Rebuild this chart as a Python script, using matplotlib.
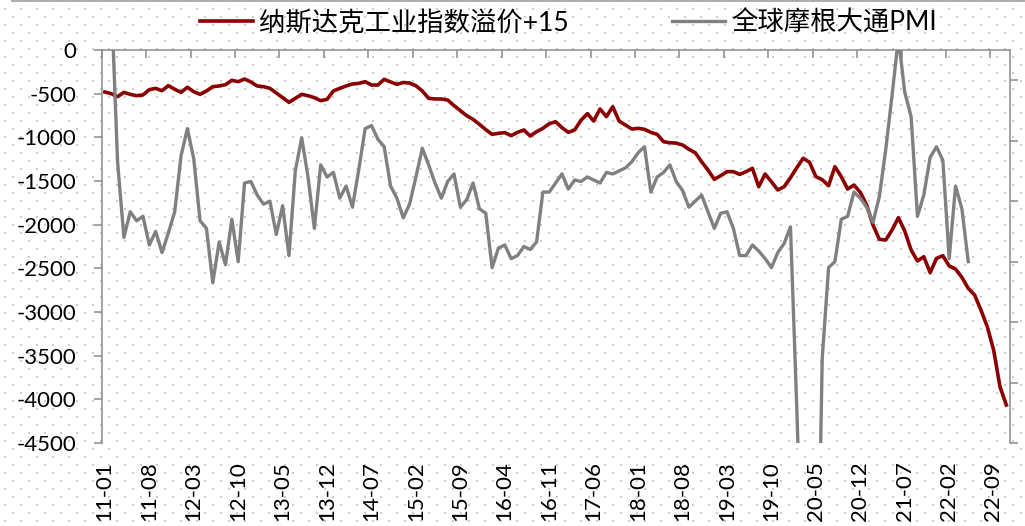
import numpy as np
import matplotlib
matplotlib.use('Agg')
import matplotlib.pyplot as plt
from matplotlib.lines import Line2D
from matplotlib.transforms import ScaledTranslation

# 纳斯达克工业指数溢价(+15), monthly from 2011-01
red = [-481, -500, -534, -485, -508, -523, -515, -454, -439, -466,
       -408, -450, -485, -427, -477, -508, -469, -420, -412, -397,
       -347, -363, -332, -366, -412, -420, -439, -492, -546, -599,
       -553, -508, -523, -546, -580, -565, -469, -439, -412, -389,
       -382, -363, -401, -401, -336, -366, -393, -372, -378, -410,
       -469, -553, -561, -561, -573, -637, -694, -752, -794, -851,
       -912, -966, -954, -946, -981, -943, -916, -985, -935, -897,
       -844, -821, -889, -943, -916, -805, -729, -813, -676, -763,
       -649, -813, -859, -905, -897, -908, -943, -966, -1050, -1062,
       -1066, -1088, -1137, -1176, -1280, -1374, -1481, -1439, -1393, -1393,
       -1424, -1393, -1355, -1565, -1420, -1508, -1603, -1565, -1462, -1347,
       -1240, -1286, -1450, -1485, -1554, -1336, -1450, -1592, -1546, -1630,
       -1775, -2004, -2168, -2176, -2061, -1920, -2073, -2290, -2416, -2367,
       -2550, -2386, -2355, -2473, -2508, -2603, -2729, -2805, -2977, -3168,
       -3435, -3855, -4065]

# 全球摩根大通PMI (secondary axis), monthly from 2011-01
pmi = [59.5, 59.8, 54.3, 51.8, 52.65, 52.35, 52.5, 51.55, 52.0, 51.3,
       51.95, 52.65, 54.5, 55.4, 54.4, 52.35, 52.1, 50.3, 51.65, 50.9,
       52.4, 51.0, 53.6, 53.65, 53.2, 52.9, 53.0, 51.9, 52.85, 51.2,
       54.0, 55.1, 53.8, 52.1, 54.2, 53.8, 53.95, 53.1, 53.5, 52.8,
       54.05, 55.4, 55.5, 55.05, 54.8, 53.5, 53.1, 52.45, 52.9, 53.8,
       54.75, 54.2, 53.6, 53.1, 53.65, 53.9, 52.8, 53.05, 53.6, 52.75,
       52.6, 50.8, 51.45, 51.55, 51.1, 51.2, 51.5, 51.4, 51.65, 53.3,
       53.3, 53.6, 53.9, 53.4, 53.7, 53.65, 53.8, 53.7, 53.6, 53.95,
       53.9, 54.0, 54.1, 54.3, 54.6, 54.8, 53.3, 53.8, 53.95, 54.2,
       53.65, 53.35, 52.8, 53.0, 53.2, 52.65, 52.1, 52.6, 52.65, 52.1,
       51.2, 51.2, 51.55, 51.35, 51.1, 50.8, 51.3, 51.6, 52.15, 46.1,
       39.4, 26.2, 36.3, 47.8, 50.8, 51.0, 52.4, 52.5, 53.3, 53.1,
       52.8, 52.3, 53.15, 54.7, 56.5, 58.4, 56.6, 55.8, 52.5, 53.2,
       54.45, 54.8, 54.35, 51.1, 53.5, 52.75, 51.0]

xlabels = ['11-01', '11-08', '12-03', '12-10', '13-05', '13-12', '14-07',
           '15-02', '15-09', '16-04', '16-11', '17-06', '18-01', '18-08',
           '19-03', '19-10', '20-05', '20-12', '21-07', '22-02', '22-09']

plt.rcParams['font.family'] = ['Lato', 'Noto Sans CJK SC', 'DejaVu Sans']
plt.rcParams['axes.unicode_minus'] = False

W, H = 1025, 526
fig = plt.figure(figsize=(W / 100, H / 100), dpi=100)

# dotted background pattern
img = np.ones((H, W, 3))
for yy in range(0, H, 8):
    off = 12 if (yy // 8) % 2 == 0 else 4
    img[yy:yy + 2, off::16] = 0.80
    img[yy:yy + 2, off + 1::16] = 0.80
fig.figimage(img, xo=0, yo=0, origin='upper', zorder=-10)
fig.add_artist(Line2D([12 / W, 1], [1 - 0.7 / H] * 2, color='#a0a0a0', lw=1.2))

gray = '#8c8c8c'
ax = fig.add_axes([101.7 / W, 1 - 443 / H, (1009.5 - 101.7) / W, 393 / H])
ax.set_facecolor('none')
l1, = ax.plot(np.arange(len(red)) + 0.5, red, color='#8B0000', lw=2.6,
              solid_joinstyle='round', label='纳斯达克工业指数溢价+15')
ax.set_xlim(0, 143)
ax.set_ylim(-4500, 0)
ax.set_yticks(range(-4500, 1, 500))
ax.set_xticks(range(0, 141, 7))
ax.set_xticklabels(xlabels, rotation=90)
ax.tick_params(axis='x', top=True, bottom=False, direction='in', length=5.6,
               width=1.1, color=gray, labelbottom=True, labeltop=False,
               pad=13, labelsize=16)
ax.tick_params(axis='y', direction='out', length=5.5, width=1.1, color=gray,
               pad=12.8, labelsize=16)
for lab in ax.get_xticklabels():
    lab.set_transform(lab.get_transform() + ScaledTranslation(0.03, 0, fig.dpi_scale_trans))

ax2 = ax.twinx()
ax2.set_facecolor('none')
l2, = ax2.plot(np.arange(len(pmi)) + 0.5, pmi, color='#808080', lw=2.4,
               solid_joinstyle='round', label='全球摩根大通PMI')
ax2.set_ylim(45, 58)
ax2.set_yticks(range(45, 58, 2))
ax2.tick_params(axis='y', direction='out', length=5.6, width=1.1, color=gray,
                labelright=False)

for s in ['top', 'left']:
    ax.spines[s].set_color(gray)
    ax.spines[s].set_linewidth(1.1)
ax.spines['bottom'].set_visible(False)
ax.spines['right'].set_visible(False)
for s in ['top', 'left', 'bottom']:
    ax2.spines[s].set_visible(False)
ax2.spines['right'].set_color(gray)
ax2.spines['right'].set_linewidth(1.1)

fig.legend([l1, l2], [l1.get_label(), l2.get_label()], loc='center',
           bbox_to_anchor=(568.5 / W, 1 - 23 / H), ncol=2, frameon=False,
           fontsize=19, handlelength=2.0, handletextpad=0.25, columnspacing=3.9)

fig.savefig('out.png', dpi=100)
